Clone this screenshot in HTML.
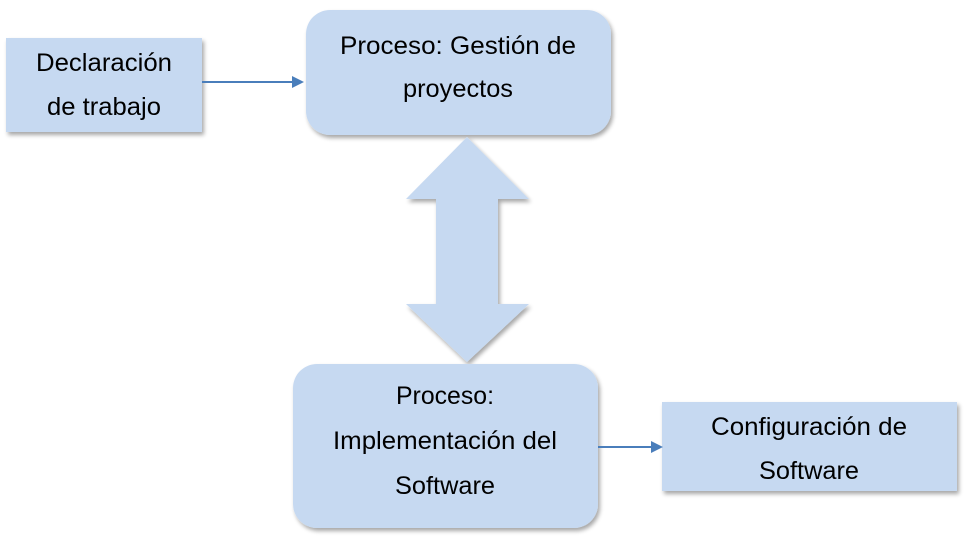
<!DOCTYPE html>
<html><head><meta charset="utf-8"><style>
html,body{margin:0;padding:0;background:#fff;}
svg{display:block;}
text{font-family:"Liberation Sans",Arial,sans-serif;font-size:25px;fill:#000;text-anchor:middle;}
</style></head><body>
<svg width="971" height="551" viewBox="0 0 971 551" xmlns="http://www.w3.org/2000/svg">
<defs>
<filter id="sh" x="-10%" y="-10%" width="130%" height="130%">
<feGaussianBlur in="SourceAlpha" stdDeviation="2"/>
<feOffset dx="2" dy="3" result="o"/>
<feComponentTransfer><feFuncA type="linear" slope="0.35"/></feComponentTransfer>
<feMerge><feMergeNode/><feMergeNode in="SourceGraphic"/></feMerge>
</filter>
</defs>
<g fill="#c6d9f1" filter="url(#sh)">
<rect x="6" y="38" width="196" height="94"/>
<rect x="306" y="10" width="305" height="125" rx="24"/>
<polygon points="467,137 529,199 498,199 498,304 529,304 467,362 406,304 436,304 436,199 406,199"/>
<rect x="293" y="364" width="305" height="164" rx="24"/>
<rect x="662" y="402" width="295" height="89"/>
</g>
<g stroke="#4a7ebb" stroke-width="2">
<line x1="202" y1="82" x2="294" y2="82"/>
<line x1="598" y1="447" x2="652" y2="447"/>
</g>
<g fill="#4a7ebb">
<polygon points="304,82 292,76 292,88"/>
<polygon points="663,447 651,441 651,453"/>
</g>
<text x="104" y="71" textLength="136" lengthAdjust="spacingAndGlyphs">Declaración</text>
<text x="104" y="115" textLength="114" lengthAdjust="spacingAndGlyphs">de trabajo</text>
<text x="458" y="54" textLength="236" lengthAdjust="spacingAndGlyphs">Proceso: Gestión de</text>
<text x="458" y="97" textLength="110" lengthAdjust="spacingAndGlyphs">proyectos</text>
<text x="445" y="404" textLength="98" lengthAdjust="spacingAndGlyphs">Proceso:</text>
<text x="445" y="449" textLength="224" lengthAdjust="spacingAndGlyphs">Implementación del</text>
<text x="445" y="494" textLength="100" lengthAdjust="spacingAndGlyphs">Software</text>
<text x="809" y="435" textLength="196" lengthAdjust="spacingAndGlyphs">Configuración de</text>
<text x="809" y="479" textLength="100" lengthAdjust="spacingAndGlyphs">Software</text>
</svg>
</body></html>
